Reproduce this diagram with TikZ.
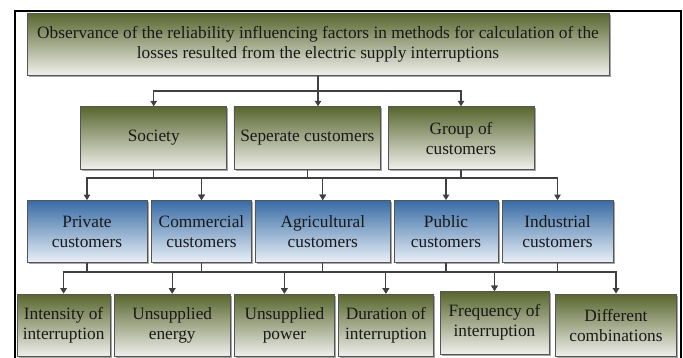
\documentclass[tikz,border=0pt]{standalone}
\usepackage{fontspec}
\setmainfont{Liberation Serif}
\usetikzlibrary{shadows,arrows.meta}
\definecolor{gtop}{RGB}{88,102,46}
\definecolor{gbot}{RGB}{240,240,236}
\definecolor{btop}{RGB}{56,108,165}
\definecolor{bbot}{RGB}{234,240,247}
\definecolor{edgec}{RGB}{85,85,85}
\definecolor{linec}{RGB}{64,64,64}
\definecolor{txtc}{RGB}{25,25,25}
\tikzset{
  basebox/.style={draw=edgec, line width=0.8pt, inner sep=0pt, align=center,
    text=txtc, font=\fontsize{17.3}{20}\selectfont,
    drop shadow={shadow xshift=1.6pt, shadow yshift=-1.6pt, fill=black, opacity=0.35}},
  gbox/.style={basebox, top color=gtop, bottom color=gbot},
  bbox/.style={basebox, top color=btop, bottom color=bbot},
  arr/.style={draw=linec, line width=1.1pt, -{Triangle[length=5.5pt,width=6.5pt]}},
  ln/.style={draw=linec, line width=1.1pt}
}
\begin{document}
\begin{tikzpicture}[x=1pt,y=-1pt]
\useasboundingbox (0,0) rectangle (683,358);
\clip (0,0) rectangle (683,358);
\fill[white] (0,0) rectangle (683,358);
\draw[line width=2pt, black] (15,380) -- (15,10.7) -- (681,10.7) -- (681,380);

% top
\node[gbox, minimum width=582pt, minimum height=62pt] (top) at (318,44.2)
  {Observance of the reliability influencing factors in methods for calculation of the\\losses resulted from the electric supply interruptions};

% row 2
\node[gbox, minimum width=146pt, minimum height=62.6pt] (soc) at (153.7,138) {Society};
\node[gbox, minimum width=146.7pt, minimum height=62.6pt] (sep) at (307.3,138) {Seperate customers};
\node[gbox, minimum width=146pt, minimum height=62.6pt] (grp) at (461,138) {Group of\\customers};

% row 3
\node[bbox, minimum width=120pt, minimum height=62pt] (pri) at (87,231.5) {Private\\customers};
\node[bbox, minimum width=99.7pt, minimum height=62pt] (com) at (201.5,231.5) {Commercial\\customers};
\node[bbox, minimum width=135.7pt, minimum height=62pt] (agr) at (322.8,231.5) {Agricultural\\customers};
\node[bbox, minimum width=103.8pt, minimum height=62pt] (pub) at (446,231.5) {Public\\customers};
\node[bbox, minimum width=111pt, minimum height=62pt] (ind) at (557.5,231.5) {Industrial\\customers};

% row 4
\node[gbox, minimum width=92.7pt, minimum height=62.5pt] (int) at (63.6,325.3) {Intensity of\\interruption};
\node[gbox, minimum width=115.7pt, minimum height=62.5pt] (uen) at (172.2,325.3) {Unsupplied\\energy};
\node[gbox, minimum width=100.2pt, minimum height=62.5pt] (upw) at (284.4,325.3) {Unsupplied\\power};
\node[gbox, minimum width=95pt, minimum height=62.5pt] (dur) at (385.9,325.3) {Duration of\\interruption};
\node[gbox, minimum width=109pt, minimum height=62.5pt] (frq) at (494.5,322.7) {Frequency of\\interruption};
\node[gbox, minimum width=120.6pt, minimum height=62.5pt] (dif) at (616,325.3) {Different\\combinations};

% buses
\coordinate (b1) at (0,91);
\coordinate (b2) at (0,178);
\coordinate (b3) at (0,272);

% top -> row 2
\draw[ln] (top.south) -- (top.south |- b1);
\draw[arr] (top.south |- b1) -| (soc.north);
\draw[arr] (top.south |- b1) -| (grp.north);
\draw[arr] (top.south) -- (top.south |- sep.north);

% row 2 -> row 3
\draw[ln] (soc.south) -- (soc.south |- b2);
\draw[arr] (soc.south |- b2) -| (pri.north);
\draw[arr] (soc.south |- b2) -| (com.north);
\draw[ln] (sep.south) -- (sep.south |- b2);
\draw[arr] (sep.south |- b2) -| (com.north);
\draw[arr] (sep.south |- b2) -| (agr.north);
\draw[ln] (grp.south) -- (grp.south |- b2);
\draw[arr] (grp.south |- b2) -| (agr.north);
\draw[arr] (grp.south |- b2) -| (pub.north);
\draw[arr] (grp.south |- b2) -| (ind.north);

% row 3 -> row 4
\draw[ln] (pri.south) -- (pri.south |- b3);
\draw[arr] (pri.south |- b3) -| (int.north);
\draw[arr] (pri.south |- b3) -| (uen.north);
\draw[ln] (com.south) -- (com.south |- b3);
\draw[arr] (com.south |- b3) -| (uen.north);
\draw[arr] (com.south |- b3) -| (upw.north);
\draw[ln] (agr.south) -- (agr.south |- b3);
\draw[arr] (agr.south |- b3) -| (upw.north);
\draw[arr] (agr.south |- b3) -| (dur.north);
\draw[ln] (pub.south) -- (pub.south |- b3);
\draw[arr] (pub.south |- b3) -| (dur.north);
\draw[arr] (pub.south |- b3) -| (frq.north);
\draw[ln] (ind.south) -- (ind.south |- b3);
\draw[arr] (ind.south |- b3) -| (frq.north);
\draw[arr] (ind.south |- b3) -| (dif.north);
\end{tikzpicture}
\end{document}
